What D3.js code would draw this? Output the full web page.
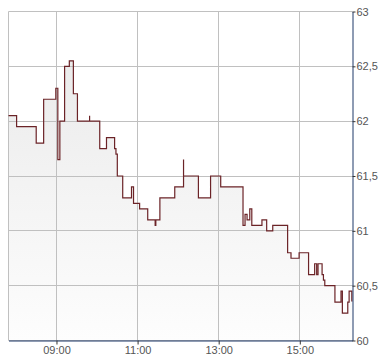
<!DOCTYPE html>
<html>
<head>
<meta charset="utf-8">
<script src="https://cdn.jsdelivr.net/npm/d3@7"></script>
<style>
  html, body { margin: 0; padding: 0; background: #fff; }
  svg { display: block; }
  .tick-label { font-family: "Liberation Sans", Arial, sans-serif; font-size: 11px; fill: #555; }
</style>
</head>
<body>
<div class="chart-area"></div>
<script>
// intraday step chart, price on right axis

// ---- data ----
const times = [
  "07:49", "08:01", "08:30", "08:41", "08:59", "09:02", "09:05", "09:12", "09:19", "09:25",
  "09:31", "09:49", "09:49", "10:04", "10:14", "10:26", "10:28", "10:30", "10:38", "10:51",
  "10:54", "11:03", "11:15", "11:26", "11:27", "11:33", "11:55", "12:08", "12:08", "12:30",
  "12:48", "13:03", "13:36", "13:39", "13:42", "13:46", "13:49", "14:04", "14:11", "14:20",
  "14:42", "14:47", "14:59", "15:13", "15:22", "15:25", "15:27", "15:33", "15:35", "15:37",
  "15:52", "16:01", "16:03", "16:11", "16:13", "16:17", "16:18"
];
const prices = [
  62.05, 61.95, 61.80, 62.20, 62.30, 61.65, 62.00, 62.50, 62.55, 62.25,
  62.00, 62.05, 62.00, 61.75, 61.85, 61.75, 61.70, 61.50, 61.30, 61.40,
  61.25, 61.20, 61.10, 61.05, 61.10, 61.30, 61.40, 61.65, 61.50, 61.30,
  61.50, 61.40, 61.05, 61.15, 61.10, 61.20, 61.05, 61.10, 61.00, 61.05,
  60.80, 60.75, 60.80, 60.60, 60.70, 60.60, 60.70, 60.60, 60.55, 60.50,
  60.35, 60.45, 60.25, 60.35, 60.45, 60.36, 60.36
];
const timeStart = "07:49";
const timeEnd = "16:18";
const xTicks = ["09:00", "11:00", "13:00", "15:00"];
const yTicks = [60, 60.5, 61, 61.5, 62, 62.5, 63];

// ---- sizes ----
const svgWidth = 390;
const svgHeight = 364;
const plotLeft = 8, plotTop = 11, plotRight = 352, plotBottom = 340;

const parseTime = d3.timeParse("%H:%M");
const data = times.map((t, i) => ({ t: parseTime(t), v: prices[i] }));

const svg = d3.select(".chart-area").append("svg")
    .attr("width", svgWidth)
    .attr("height", svgHeight);

const g = svg.append("g").attr("transform", "translate(0.5,0.5)");

const x = d3.scaleTime()
    .domain([parseTime(timeStart), parseTime(timeEnd)])
    .range([plotLeft, plotRight]);

const y = d3.scaleLinear()
    .domain([60, 63])
    .range([plotBottom, plotTop]);

// gradient for area
const defs = svg.append("defs");
const grad = defs.append("linearGradient")
    .attr("id", "area-grad")
    .attr("gradientUnits", "userSpaceOnUse")
    .attr("x1", 0).attr("x2", 0)
    .attr("y1", plotTop).attr("y2", plotBottom);
grad.append("stop").attr("offset", 0).attr("stop-color", "#e8e8e8");
grad.append("stop").attr("offset", 1).attr("stop-color", "#fdfdfd");

// area
const area = d3.area()
    .curve(d3.curveStepAfter)
    .x(d => x(d.t))
    .y0(plotBottom)
    .y1(d => y(d.v));

g.append("path")
    .datum(data)
    .attr("d", area)
    .attr("fill", "url(#area-grad)");

// grid
const gridColor = "#c0c0c0";
g.selectAll("line.hgrid")
    .data(yTicks)
    .join("line")
    .attr("class", "hgrid")
    .attr("x1", plotLeft).attr("x2", plotRight)
    .attr("y1", d => Math.round(y(d))).attr("y2", d => Math.round(y(d)))
    .attr("stroke", gridColor);

g.selectAll("line.vgrid")
    .data(xTicks)
    .join("line")
    .attr("class", "vgrid")
    .attr("x1", d => Math.round(x(parseTime(d)))).attr("x2", d => Math.round(x(parseTime(d))))
    .attr("y1", plotTop).attr("y2", plotBottom)
    .attr("stroke", gridColor);

// left border
g.append("line")
    .attr("x1", plotLeft).attr("x2", plotLeft)
    .attr("y1", plotTop).attr("y2", plotBottom)
    .attr("stroke", gridColor);

// price line
const line = d3.line()
    .curve(d3.curveStepAfter)
    .x(d => x(d.t))
    .y(d => y(d.v));

g.append("path")
    .datum(data)
    .attr("d", line)
    .attr("fill", "none")
    .attr("stroke", "#6b2327")
    .attr("stroke-width", 1.2);

// axes
const axisColor = "#1f3868";

const xAxis = g.append("g")
    .attr("transform", `translate(0,${plotBottom})`)
    .call(d3.axisBottom(x)
        .tickValues(xTicks.map(parseTime))
        .tickFormat(d3.timeFormat("%H:%M"))
        .tickSize(4)
        .tickSizeOuter(0));
xAxis.select(".domain").attr("stroke", axisColor);
xAxis.selectAll(".tick line").attr("stroke", "#333");
xAxis.selectAll(".tick text")
    .attr("class", "tick-label")
    .attr("y", 6)
    .attr("dy", "0.71em");

const yAxis = g.append("g")
    .attr("transform", `translate(${plotRight},0)`)
    .call(d3.axisRight(y)
        .tickValues(yTicks)
        .tickFormat(d => String(d).replace(".", ","))
        .tickSize(3)
        .tickSizeOuter(0));
yAxis.select(".domain").attr("stroke", axisColor);
yAxis.selectAll(".tick line").attr("stroke", "#333");
yAxis.selectAll(".tick text")
    .attr("class", "tick-label")
    .attr("x", 4);
</script>
</body>
</html>
